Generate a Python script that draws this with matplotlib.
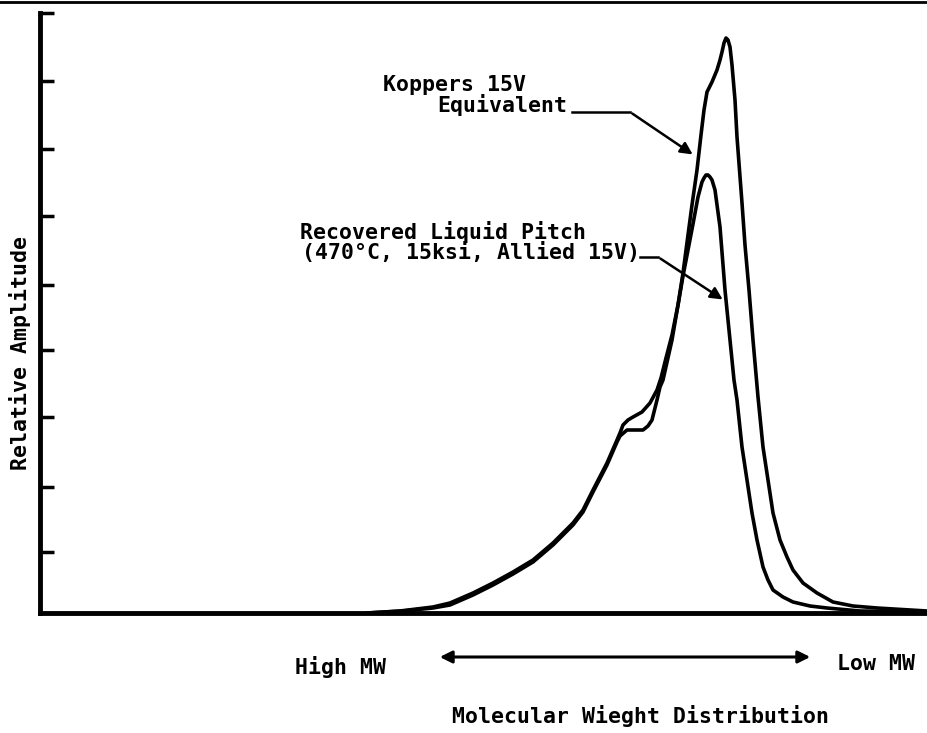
#Imports
import matplotlib
matplotlib.use('Agg')
import matplotlib.pyplot as plt
from matplotlib.lines import Line2D

#GPC traces of the two pitches.
#x = elution position (chart units), amp = relative amplitude (chart units)
koppers_x = [327, 360, 393, 410, 433, 453, 473, 493, 513, 533, 543, 553, 567, 577, 580,
             583, 588, 593, 602, 610, 617, 621, 626, 632, 638, 643, 648, 652, 657, 661,
             664, 667, 672, 677, 680, 682, 684, 686, 688, 690, 692, 695, 697, 702, 705,
             709, 713, 718, 723, 728, 733, 740, 747, 753, 763, 777, 793, 813, 837, 887]
koppers_amp = [0, 2, 6, 10, 20, 30, 41, 53, 70, 90, 103, 123, 150, 173, 180,
               188, 193, 196, 201, 210, 223, 235, 255, 278, 308, 340, 378, 408, 443, 478,
               503, 521, 531, 543, 553, 561, 570, 575, 573, 566, 548, 513, 476, 410, 368,
               323, 273, 216, 166, 133, 100, 73, 56, 43, 30, 20, 11, 7, 5, 2]

recovered_x = [327, 363, 393, 410, 433, 453, 473, 493, 513, 533, 543, 553, 567, 577, 580,
               587, 603, 608, 612, 617, 620, 623, 632, 643, 648, 653, 658, 662, 664, 666,
               668, 670, 672, 675, 680, 685, 690, 694, 697, 702, 707, 712, 717, 723, 728,
               733, 743, 753, 770, 787, 820, 887]
recovered_amp = [0, 2, 5, 8, 18, 28, 39, 51, 68, 88, 101, 121, 148, 171, 177,
                 183, 183, 187, 193, 213, 226, 233, 273, 337, 363, 389, 416, 431, 435, 438,
                 438, 436, 433, 423, 386, 323, 273, 233, 213, 166, 133, 100, 73, 46, 33,
                 23, 16, 11, 7, 5, 2, 1]

amp_ticks = [61, 126, 196, 263, 328, 397, 464, 532, 600]

FONT = 'DejaVu Sans Mono'
FS = 15.5

fig = plt.figure(figsize=(9.27, 7.33), dpi=100)
ax = fig.add_axes([40/927, 120/733, 887/927, 600/733])

ax.plot(koppers_x, koppers_amp, color='black', lw=2.6, solid_joinstyle='round', solid_capstyle='round')
ax.plot(recovered_x, recovered_amp, color='black', lw=2.6, solid_joinstyle='round', solid_capstyle='round')

ax.set_xlim(0, 887)
ax.set_ylim(0, 600)
ax.set_yticks(amp_ticks)
ax.set_yticklabels([])
ax.set_xticks([])
ax.tick_params(axis='y', direction='in', length=10, width=2.5, color='black')
for side in ['top', 'right']:
    ax.spines[side].set_visible(False)
for side in ['left', 'bottom']:
    ax.spines[side].set_linewidth(3.5)
    ax.spines[side].set_capstyle('projecting')

#labels with leader arrows
ax.text(343, 528, 'Koppers 15V', fontfamily=FONT, fontweight='bold', fontsize=FS, va='center')
ax.text(397, 508, 'Equivalent', fontfamily=FONT, fontweight='bold', fontsize=FS, va='center')
ax.plot([532, 590], [501, 501], color='black', lw=1.8)
ax.annotate('', xy=(655, 457), xytext=(590, 501),
            arrowprops=dict(arrowstyle='-|>', color='black', lw=1.8, mutation_scale=18))

ax.text(260, 381, 'Recovered Liquid Pitch', fontfamily=FONT, fontweight='bold', fontsize=FS, va='center')
ax.text(262, 360, '(470\u00b0C, 15ksi, Allied 15V)', fontfamily=FONT, fontweight='bold', fontsize=FS, va='center')
ax.plot([600, 618], [356, 356], color='black', lw=1.8)
ax.annotate('', xy=(685, 312), xytext=(618, 356),
            arrowprops=dict(arrowstyle='-|>', color='black', lw=1.8, mutation_scale=18))

#direction of molecular weight below the axis
fig.text(295/927, 1 - 667/733, 'High MW', fontfamily=FONT, fontweight='bold', fontsize=FS, va='center')
fig.text(837/927, 1 - 664/733, 'Low MW', fontfamily=FONT, fontweight='bold', fontsize=FS, va='center')
fig.text(641/927, 1 - 716/733, 'Molecular Wieght Distribution', fontfamily=FONT, fontweight='bold',
         fontsize=FS, va='center', ha='center')
ax.annotate('', xy=(813/927, 1 - 657/733), xytext=(437/927, 1 - 657/733),
            xycoords='figure fraction', textcoords='figure fraction',
            arrowprops=dict(arrowstyle='<|-|>', color='black', lw=2.2, mutation_scale=18))

fig.text(20/927, 1 - 353/733, 'Relative Amplitude', fontfamily=FONT, fontweight='bold', fontsize=FS,
         rotation=90, va='center', ha='center')

#border line along the top edge
fig.add_artist(Line2D([0, 1], [1 - 1.5/733, 1 - 1.5/733], color='black', lw=2))

plt.savefig('out.png', dpi=100)
